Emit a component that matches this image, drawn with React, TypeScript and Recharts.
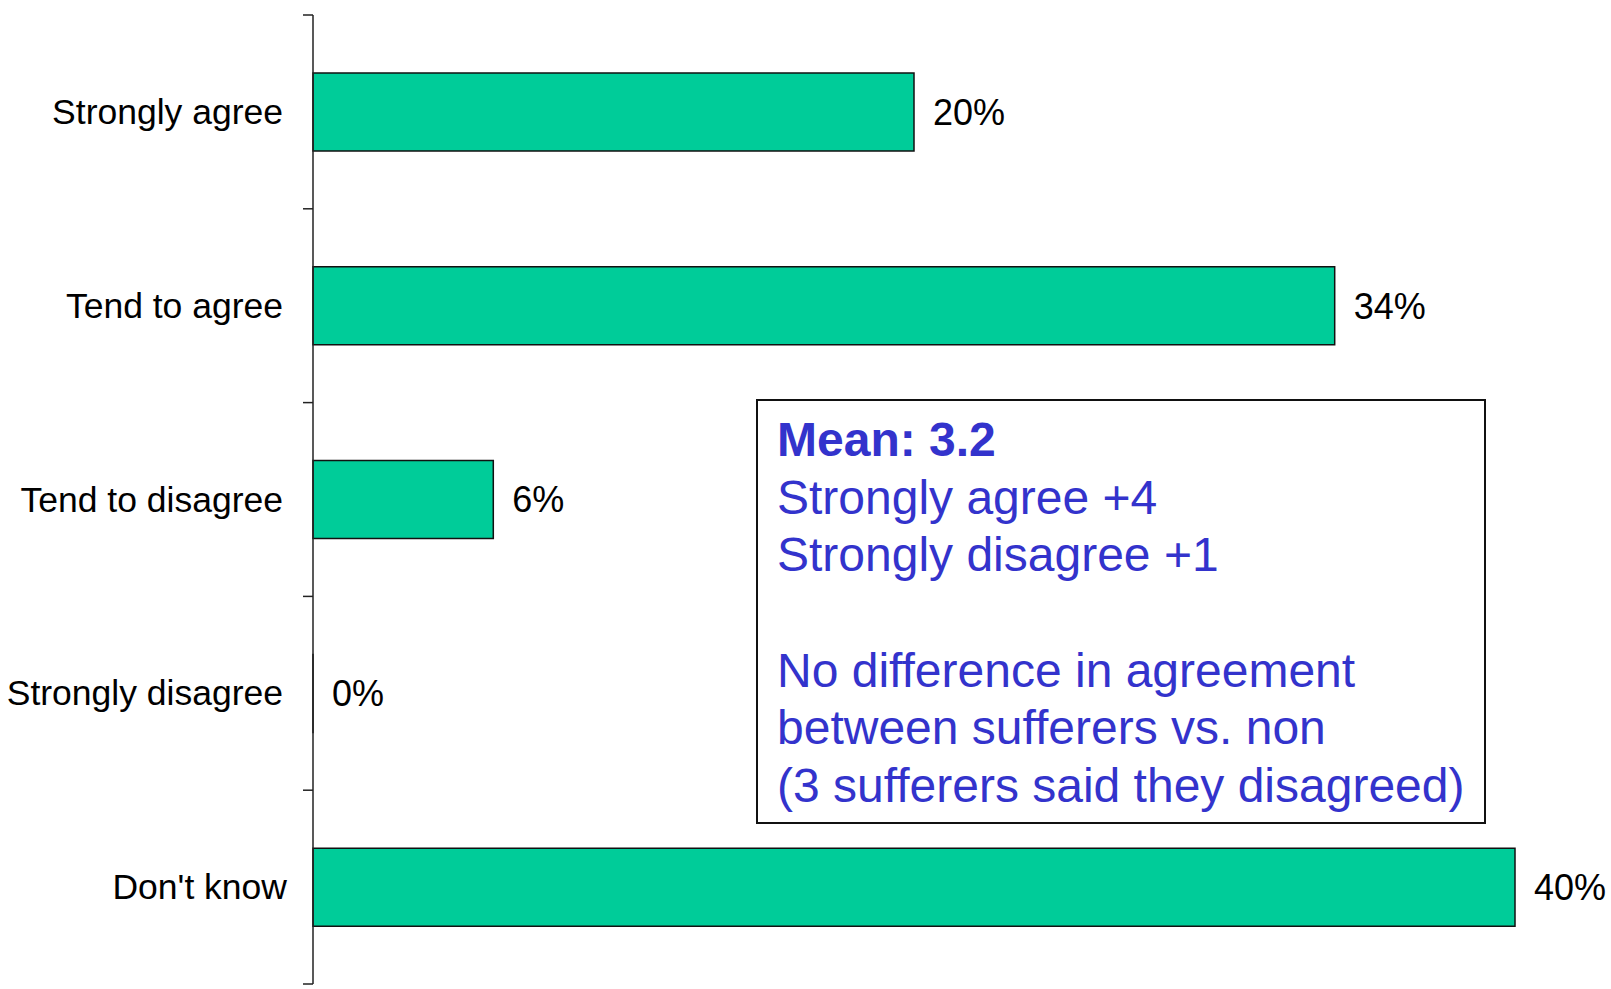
import React from 'react';
import { BarChart, Bar, XAxis, YAxis, LabelList } from 'recharts';

// Survey answers and share of respondents (%)
const categories = ['Strongly agree', 'Tend to agree', 'Tend to disagree', 'Strongly disagree', "Don't know"];
const shares = [20, 34, 6, 0, 40];
const xDomain = [0, 40];

const noteTitle = 'Mean: 3.2';
const noteLines = [
  'Strongly agree +4',
  'Strongly disagree +1',
  '',
  'No difference in agreement',
  'between sufferers vs. non',
  '(3 sufferers said they disagreed)',
];

const WIDTH = 1611;
const HEIGHT = 989;
const MARGIN = { top: 15, right: 96, bottom: 5, left: 0 };
const FONT = '"Liberation Sans", Arial, sans-serif';
const BAND = (HEIGHT - MARGIN.top - MARGIN.bottom) / categories.length;

const chartData = categories.map((name, i) => ({ name, value: shares[i] }));

// label at band centre, small tick marks at band boundaries
const CategoryTick = (props: any) => {
  const { x, y, payload, index } = props;
  const last = index === categories.length - 1;
  return (
    <g>
      <text x={last ? x + 4 : x} y={y} textAnchor="end" dominantBaseline="central" fontSize={35.5} fontFamily={FONT} fill="#000">
        {payload.value}
      </text>
      <line x1={x + 20} x2={x + 30} y1={y - BAND / 2} y2={y - BAND / 2} stroke="#222" strokeWidth={1.5} />
      {last && <line x1={x + 20} x2={x + 30} y1={y + BAND / 2} y2={y + BAND / 2} stroke="#222" strokeWidth={1.5} />}
    </g>
  );
};

const App: React.FC = () => {
  return (
    <div style={{ position: 'absolute', left: 0, top: 0, width: WIDTH, height: HEIGHT, background: '#fff' }}>
      <BarChart width={WIDTH} height={HEIGHT} data={chartData} layout="vertical" margin={MARGIN}>
        <XAxis type="number" domain={xDomain} hide />
        <YAxis
          type="category"
          dataKey="name"
          width={313}
          axisLine={{ stroke: '#222', strokeWidth: 1.5 }}
          tickLine={false}
          tickSize={10}
          tickMargin={20}
          tick={<CategoryTick />}
          interval={0}
        />
        <Bar
          dataKey="value"
          fill="#00CC99"
          stroke="#111"
          strokeWidth={1.5}
          barSize={78}
          minPointSize={(v: number) => (v === 0 ? 0.01 : 0)}
          isAnimationActive={false}
        >
          <LabelList
            dataKey="value"
            position="right"
            offset={19}
            formatter={(v: any) => `${v}%`}
            fill="#000"
            fontSize={36}
            fontFamily={FONT}
          />
        </Bar>
      </BarChart>
      <div
        style={{
          position: 'absolute',
          left: 756,
          top: 399,
          width: 730,
          height: 425,
          boxSizing: 'border-box',
          border: '2px solid #111',
          padding: '10px 0 0 19px',
          fontFamily: FONT,
          fontSize: 48,
          lineHeight: '57.7px',
          color: '#3333CC',
          whiteSpace: 'pre',
        }}
      >
        <div style={{ fontWeight: 'bold', height: 57.7 }}>{noteTitle}</div>
        {noteLines.map((line, i) => (
          <div key={i} style={{ height: 57.7 }}>{line}</div>
        ))}
      </div>
    </div>
  );
};

export default App;
